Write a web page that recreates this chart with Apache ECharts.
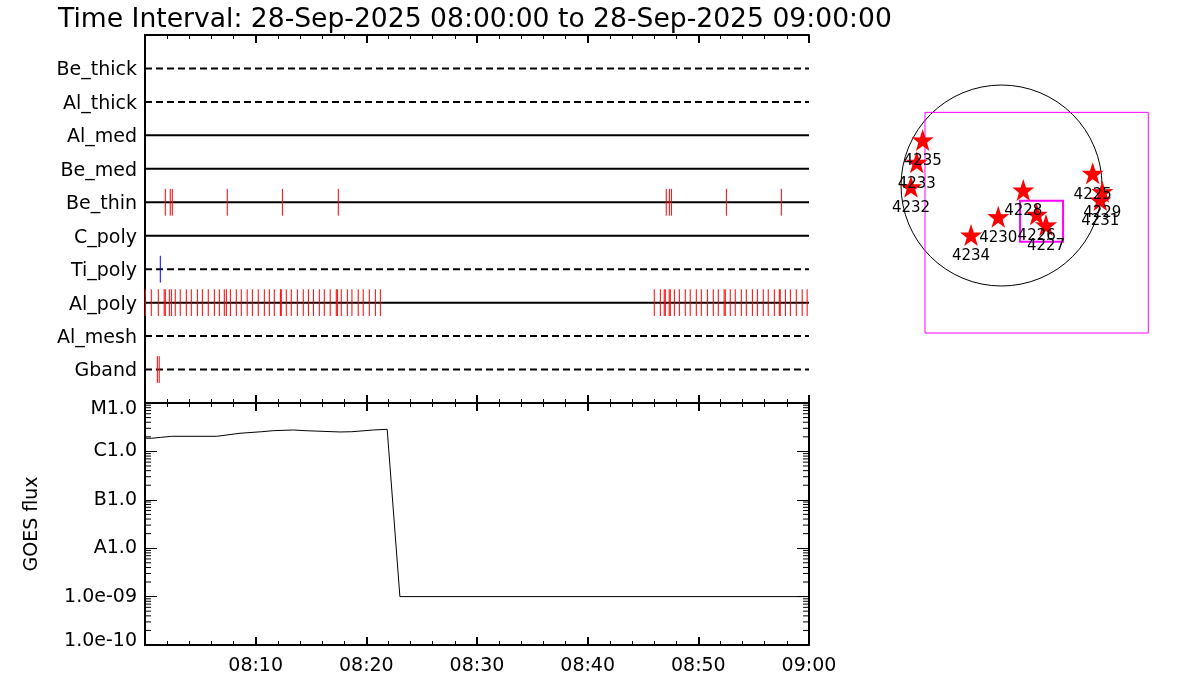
<!DOCTYPE html>
<html>
<head>
<meta charset="utf-8">
<script src="https://cdn.jsdelivr.net/npm/echarts@6/dist/echarts.min.js"></script>
<style>html,body{margin:0;padding:0;background:#fff}#c{width:1200px;height:700px}</style>
</head>
<body>
<div id="c"></div>
<script>
// ---------------- DATA ----------------
const titleText = 'Time Interval: 28-Sep-2025 08:00:00 to 28-Sep-2025 09:00:00';
const startTime = '08:00:00';
const endTime = '09:00:00';
const xTickLabels = ['08:00', '08:10', '08:20', '08:30', '08:40', '08:50', '09:00'];

// attenuator / filter rows (top to bottom) and whether each one is in (solid) or out (dashed)
const rowNames = ['Be_thick', 'Al_thick', 'Al_med', 'Be_med', 'Be_thin', 'C_poly', 'Ti_poly', 'Al_poly', 'Al_mesh', 'Gband'];
const rowIn = [false, false, true, true, true, true, false, true, false, false];

// event times per row
const beThinTimes = ['08:01:50', '08:02:17', '08:02:28', '08:07:26', '08:12:25', '08:17:28',
  '08:47:06', '08:47:23', '08:47:34', '08:52:32', '08:57:30'];
const tiPolyTimes = ['08:01:23'];
const gbandTimes = ['08:01:07', '08:01:17'];
const alPolyTimes = ['08:00:02', '08:00:34', '08:01:12', '08:01:44', '08:01:50', '08:02:12', '08:02:23', '08:02:44',
  '08:03:11', '08:03:44', '08:04:11', '08:04:44', '08:05:11', '08:05:43', '08:06:16', '08:06:43', '08:07:10',
  '08:07:21', '08:07:43', '08:08:15', '08:08:42', '08:09:14', '08:09:42', '08:10:14', '08:10:47', '08:11:14',
  '08:11:41', '08:12:14', '08:12:19', '08:12:46', '08:13:13', '08:13:46', '08:14:18', '08:14:46', '08:15:13',
  '08:15:45', '08:16:12', '08:16:44', '08:17:17', '08:17:23', '08:17:44', '08:18:17', '08:18:42', '08:19:16',
  '08:19:43', '08:20:16', '08:20:49', '08:21:16',
  '08:46:01', '08:46:34', '08:46:55', '08:47:01', '08:47:22', '08:47:28', '08:47:50', '08:48:17', '08:48:49',
  '08:49:16', '08:49:49', '08:50:16', '08:50:49', '08:51:21', '08:51:48', '08:52:20', '08:52:26', '08:52:53',
  '08:53:20', '08:53:53', '08:54:20', '08:54:53', '08:55:20', '08:55:52', '08:56:19', '08:56:52', '08:57:19',
  '08:57:24', '08:57:52', '08:58:19', '08:58:51', '08:59:23', '08:59:50'];

// GOES flux
const goesTimes = ['08:00:00', '08:00:36', '08:01:25', '08:02:25', '08:06:29', '08:08:35', '08:10:32', '08:11:35',
  '08:13:24', '08:14:28', '08:17:37', '08:18:41', '08:20:38', '08:21:53', '08:23:02', '09:00:00'];
const goesFlux = [1.87e-6, 1.87e-6, 1.95e-6, 2.05e-6, 2.05e-6, 2.37e-6, 2.55e-6, 2.68e-6,
  2.77e-6, 2.68e-6, 2.52e-6, 2.55e-6, 2.77e-6, 2.86e-6, 1.0e-9, 1.0e-9];
const goesExponents = [-10, -9, -8, -7, -6, -5];
const goesTickLabels = ['1.0e-10', '1.0e-09', 'A1.0', 'B1.0', 'C1.0', 'M1.0'];
const goesMin = 1e-10, goesMax = 1e-5;

// Solar disk map (arcsec)
const solarRadius = 960;
const arNumbers = ['4235', '4233', '4232', '4228', '4230', '4226', '4227', '4234', '4225', '4229', '4231'];
const arX = [-753, -810, -865, 208, -31, 336, 425, -291, 871, 963, 944];
const arY = [435, 222, -12, -43, -298, -275, -377, -473, 117, -59, -139];
const fovBox = [-731, 699, 1402, -1409];     // x1, y1, x2, y2
const flareBox = [177, -145, 588, -537];

// ---------------- HELPERS ----------------
function toMin(t) {
  const p = t.split(':').map(Number), s = startTime.split(':').map(Number);
  return (p[0] - s[0]) * 60 + (p[1] - s[1]) + (p[2] - s[2]) / 60;
}
const xMax = toMin(endTime);
const FONT = 'DejaVu Sans';
const BLACK = '#000';

function tickSeries(times, row, color) {
  return {
    type: 'custom', xAxisIndex: 0, yAxisIndex: 0, z: 5,
    data: times.map(t => [toMin(t), row]),
    renderItem: function (p, api) {
      const c = api.coord([api.value(0), api.value(1)]);
      const h = api.size([0, 1])[1] * 0.4;
      return { type: 'line', shape: { x1: c[0], y1: c[1] - h, x2: c[0], y2: c[1] + h },
        style: { stroke: color, lineWidth: 1 } };
    }
  };
}

const rowLineSeries = {
  type: 'custom', xAxisIndex: 0, yAxisIndex: 0, z: 3,
  data: rowNames.map((n, i) => [i + 1, rowIn[i] ? 1 : 0]),
  renderItem: function (p, api) {
    const y = api.value(0);
    const a = api.coord([0, y]), b = api.coord([xMax, y]);
    return { type: 'line', shape: { x1: a[0], y1: a[1], x2: b[0], y2: b[1] },
      style: { stroke: BLACK, lineWidth: 2, lineDash: api.value(1) ? null : [7, 4] } };
  }
};

// log minor tick positions (2..9 per decade)
const minorLogTicks = [];
for (let d = -10; d < -5; d++) for (let k = 2; k <= 9; k++) minorLogTicks.push(k * Math.pow(10, d));

const logMinorSeries = {
  type: 'custom', xAxisIndex: 3, yAxisIndex: 2, z: 4, silent: true,
  data: minorLogTicks.map(v => [v]),
  renderItem: function (p, api) {
    const v = api.value(0);
    const l = api.coord([0, v]), r = api.coord([xMax, v]);
    return { type: 'group', children: [
      { type: 'line', shape: { x1: l[0], y1: l[1], x2: l[0] + 6, y2: l[1] }, style: { stroke: BLACK, lineWidth: 1 } },
      { type: 'line', shape: { x1: r[0] - 6, y1: r[1], x2: r[0], y2: r[1] }, style: { stroke: BLACK, lineWidth: 1 } }
    ] };
  }
};

function timeAxis(gridIndex, position, showLabel) {
  return {
    type: 'value', gridIndex: gridIndex, position: position, min: 0, max: xMax, interval: 10,
    axisLine: { show: true, onZero: false, lineStyle: { color: BLACK, width: 2 } },
    axisTick: { show: true, inside: true, length: 8, lineStyle: { color: BLACK, width: 2 } },
    minorTick: { show: true, splitNumber: 5, length: 4, lineStyle: { color: BLACK, width: 1 } },
    splitLine: { show: false }, minorSplitLine: { show: false },
    axisLabel: { show: showLabel, showMinLabel: false, margin: 12, color: BLACK, fontFamily: FONT, fontSize: 19,
      formatter: v => xTickLabels[Math.round(v / 10)] }
  };
}
const labelRich = {
  lo: { fontFamily: FONT, fontSize: 19, color: BLACK, padding: [0, 0, 7, 0] },
  hi: { fontFamily: FONT, fontSize: 19, color: BLACK, padding: [13, 0, 0, 0] },
  mid: { fontFamily: FONT, fontSize: 19, color: BLACK, padding: [4, 0, 0, 0] }
};
function logAxis(position, showLabel) {
  return {
    type: 'log', logBase: 10, gridIndex: 1, position: position, min: goesMin, max: goesMax,
    axisLine: { show: true, onZero: false, lineStyle: { color: BLACK, width: 2 } },
    axisTick: { show: true, inside: true, length: 12, lineStyle: { color: BLACK, width: 1 } },
    splitLine: { show: false },
    name: showLabel ? 'GOES flux' : '', nameLocation: 'middle', nameGap: 103,
    nameTextStyle: { color: BLACK, fontFamily: FONT, fontSize: 19 },
    axisLabel: { show: showLabel, margin: 8, color: BLACK, fontFamily: FONT, fontSize: 19, rich: labelRich,
      formatter: function (v) {
        const e = Math.round(Math.log10(v));
        const t = goesTickLabels[goesExponents.indexOf(e)];
        if (e === goesExponents[0]) return '{lo|' + t + '}';
        if (e === goesExponents[goesExponents.length - 1]) return '{hi|' + t + '}';
        return t;
      } }
  };
}

const starPath = 'path://M50,0 L61.8,35.1 L97.6,34.5 L68.8,56.3 L79.4,90.5 L50,70 L20.6,90.5 L31.2,56.3 L2.4,34.5 L38.2,35.1 Z';

const option = {
  backgroundColor: '#fff',
  animation: false,
  title: { text: titleText, left: 53, top: 2,
    textStyle: { color: BLACK, fontFamily: FONT, fontSize: 26.6, fontWeight: 'normal' } },
  grid: [
    { left: 145, top: 35, width: 664, height: 368 },
    { left: 145, top: 403, width: 664, height: 242 },
    { left: 875.9, top: 59.9, width: 293.1, height: 293.1 }
  ],
  xAxis: [
    timeAxis(0, 'bottom', false),
    timeAxis(0, 'top', false),
    timeAxis(1, 'top', false),
    timeAxis(1, 'bottom', true),
    { type: 'value', gridIndex: 2, min: -1200, max: 1600, show: false }
  ],
  yAxis: [
    { type: 'value', gridIndex: 0, min: 0, max: rowNames.length + 1, interval: 1, inverse: true, position: 'left',
      axisLine: { show: true, lineStyle: { color: BLACK, width: 2 } }, axisTick: { show: false },
      splitLine: { show: false },
      axisLabel: { margin: 8, color: BLACK, fontFamily: FONT, fontSize: 19, rich: labelRich,
        formatter: v => rowNames[v - 1] ? '{mid|' + rowNames[v - 1] + '}' : '' } },
    { type: 'value', gridIndex: 0, min: 0, max: rowNames.length + 1, inverse: true, position: 'right',
      axisLine: { show: true, lineStyle: { color: BLACK, width: 2 } }, axisTick: { show: false },
      axisLabel: { show: false }, splitLine: { show: false } },
    logAxis('left', true),
    logAxis('right', false),
    { type: 'value', gridIndex: 2, min: -1600, max: 1200, show: false }
  ],
  series: [
    rowLineSeries,
    tickSeries(beThinTimes, rowNames.indexOf('Be_thin') + 1, '#ff0000'),
    tickSeries(tiPolyTimes, rowNames.indexOf('Ti_poly') + 1, '#0000ff'),
    tickSeries(alPolyTimes, rowNames.indexOf('Al_poly') + 1, '#ff0000'),
    tickSeries(gbandTimes, rowNames.indexOf('Gband') + 1, '#ff0000'),
    {
      type: 'line', xAxisIndex: 3, yAxisIndex: 2, showSymbol: false, symbol: 'none',
      data: goesTimes.map((t, i) => [toMin(t), goesFlux[i]]),
      lineStyle: { color: BLACK, width: 1 }
    },
    logMinorSeries,
    {
      type: 'custom', xAxisIndex: 4, yAxisIndex: 4, z: 2, silent: true,
      data: [[0, 0, solarRadius]],
      renderItem: function (p, api) {
        const c = api.coord([api.value(0), api.value(1)]);
        const r = api.size([api.value(2), 0])[0];
        return { type: 'circle', shape: { cx: c[0], cy: c[1], r: r }, style: { fill: 'none', stroke: BLACK, lineWidth: 1 } };
      }
    },
    {
      type: 'custom', xAxisIndex: 4, yAxisIndex: 4, z: 3, silent: true,
      data: [fovBox, flareBox],
      renderItem: function (p, api) {
        const a = api.coord([api.value(0), api.value(1)]);
        const b = api.coord([api.value(2), api.value(3)]);
        return { type: 'rect', shape: { x: a[0], y: a[1], width: b[0] - a[0], height: b[1] - a[1] },
          style: { fill: 'none', stroke: '#ff00ff', lineWidth: p.dataIndex === 0 ? 1 : 2 } };
      }
    },
    {
      type: 'scatter', xAxisIndex: 4, yAxisIndex: 4, z: 4,
      symbol: starPath, symbolSize: [22, 22],
      itemStyle: { color: '#ff0000', opacity: 1 },
      data: arX.map((x, i) => ({ value: [x, arY[i]], name: arNumbers[i] })),
      label: { show: true, position: 'bottom', distance: 3, formatter: '{b}', color: BLACK, fontFamily: FONT, fontSize: 15 },
      labelLayout: { hideOverlap: false }
    }
  ]
};

const chart = echarts.init(document.getElementById('c'), null, { renderer: 'canvas' });
chart.setOption(option);
</script>
</body>
</html>
